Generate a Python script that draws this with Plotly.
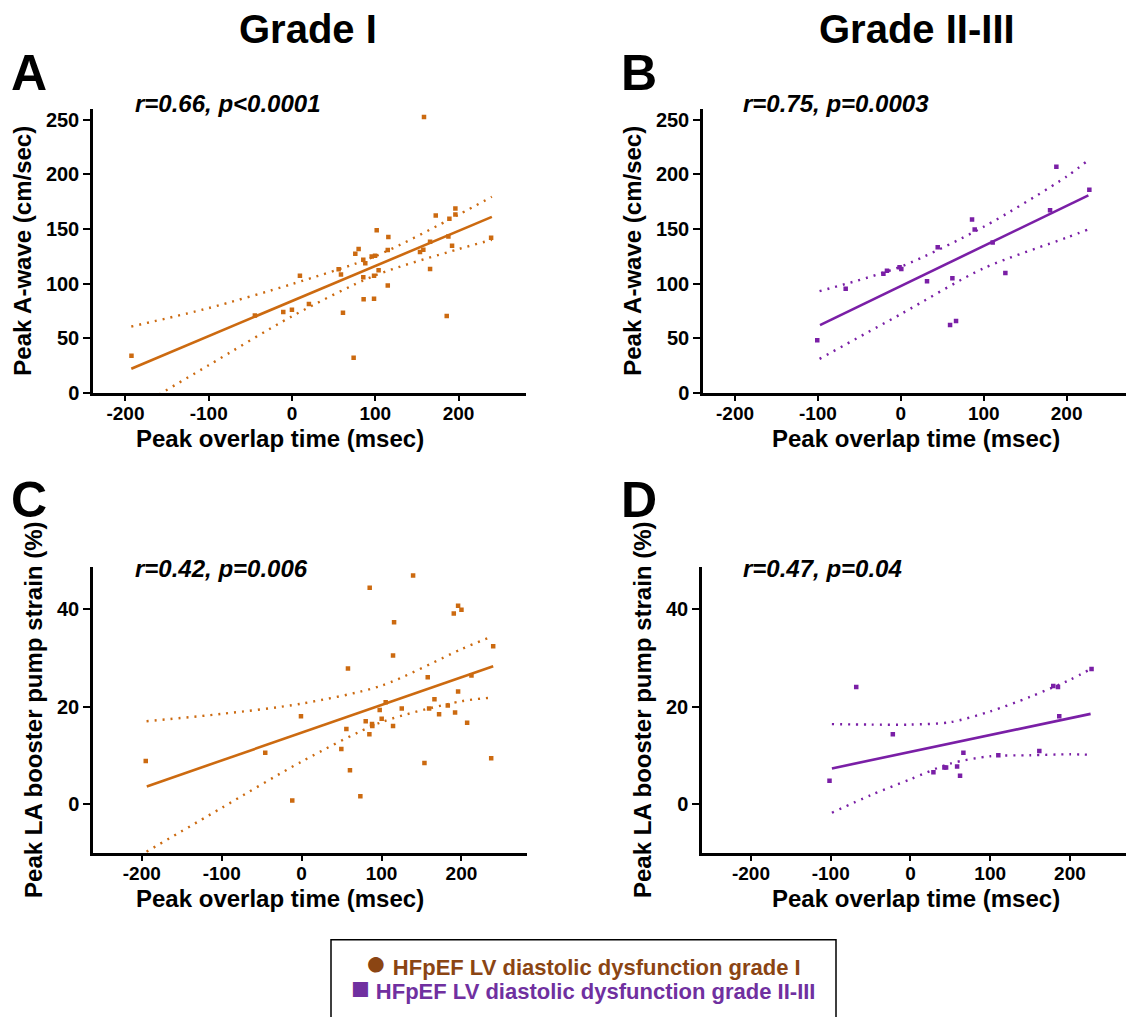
import plotly.graph_objects as go

W, H = 1126, 1017
FONT = "Liberation Sans, Arial, sans-serif"
ORANGE = "#CC6A10"
PURPLE = "#7A1FA6"
BROWN = "#8B4513"
LEG_PURPLE = "#7030A0"

# ---------------- data ----------------
# Panel A: Grade I, Peak A-wave vs peak overlap time
a_x = [158.5, -192.8, -44.6, -10.5, -0.1, 9.5, 20.3, 56, 58.8, 61.2, 76, 80, 74, 85.6, 88,
       85.6, 86, 98.5, 98.5, 99.7, 95.7, 101.7, 104, 115.7, 115, 115, 153.7, 157.7, 165.8,
       165.8, 172.6, 185.8, 187.8, 189, 192.2, 196.2, 196.2, 239.1]
a_y = [252.4, 33.9, 70.6, 73.9, 76, 107, 81.2, 113, 108.2, 73.3, 127.3, 131.5, 32.1, 121.8,
       118.5, 105.8, 85.5, 86, 107, 125.5, 124.8, 148.8, 112.1, 142.7, 130.6, 98.2, 128.8,
       130.9, 138.2, 113.3, 162.4, 70.3, 143, 159.4, 134.5, 168.8, 163.3, 141.8]
a_fit_x = [-193, 240]
a_fit_y = [22, 161]
a_band_x = [-193, -100, 0, 100, 200, 240]
a_upper = [60.6, 77.5, 99.5, 125, 163, 179.5]
a_lower = [-16.6, 25.2, 70, 107.5, 131.5, 140]

# Panel B: Grade II-III, Peak A-wave vs peak overlap time
b_x = [-100.8, -66.5, -21, -16.7, 0.6, -1.5, 31.6, 44.5, 62.2, 59.4, 66.6, 85.9, 89.1,
       110.8, 126.1, 180, 187.6, 227.4]
b_y = [48, 95.2, 109, 111.8, 113.3, 115, 102.1, 133.2, 104.8, 61.9, 65.6, 158.6, 149.5,
       137.5, 109.7, 167, 207, 185.8]
b_fit_x = [-97.5, 226.2]
b_fit_y = [61.9, 180.7]
b_band_x = [-98, 0, 100, 200, 226]
b_upper = [93, 115.5, 152, 198, 213]
b_lower = [31, 72, 114, 142, 149.5]

# Panel C: Grade I, LA booster pump strain vs peak overlap time
c_x = [139.5, 85.2, 195.8, 200, 190.4, 115.7, 114.4, 239.7, 58, 157.8, 212.5, 195.8, 166.2,
       105.2, -0.8, 125.3, 97.7, 159.5, 182.9, 172, 192, 100.2, 80.2, 88.1, 88.5, 114.4, 56,
       84.8, 207.1, 49.7, -45.5, -195, 153.7, 237.2, 60.5, -11.7, 73.5]
c_y = [46.9, 44.4, 40.7, 39.9, 39.1, 37.3, 30.5, 32.4, 27.8, 26, 26.4, 23.1, 21.5, 20.9, 18,
       19.6, 19.3, 19.6, 20.2, 18.4, 18.8, 17.5, 17, 16.4, 16, 16, 15.4, 14.3, 16.7, 11.3,
       10.5, 8.8, 8.4, 9.4, 6.9, 0.7, 1.6]
c_fit_x = [-193.7, 239.7]
c_fit_y = [3.6, 28.3]
c_band_x = [-194, -100, 0, 100, 200, 235]
c_upper = [17, 18.5, 20.6, 24.3, 31.8, 34.2]
c_lower = [-9.8, -0.8, 8.7, 16.8, 21.1, 21.8]

# Panel D: Grade II-III, LA booster pump strain vs peak overlap time
d_x = [-68, -101.5, -22.1, 28.8, 42.6, 44.7, 58.5, 62.2, 66.4, 110.2, 161.6, 186.6, 179.1,
       185, 227.1]
d_y = [24, 4.75, 14.3, 6.5, 7.5, 7.5, 7.7, 5.8, 10.5, 10, 10.9, 18, 24.2, 24, 27.7]
d_fit_x = [-98.5, 225.9]
d_fit_y = [7.3, 18.5]
d_band_x = [-98.5, -50, 0, 50, 100, 150, 200, 226]
d_upper = [16.4, 16.3, 16.3, 16.8, 19.0, 22.0, 25.5, 27.7]
d_lower = [-1.8, 1.8, 5.1, 8.3, 9.8, 10.0, 10.2, 10.1]

x_ticks = [-200, -100, 0, 100, 200]
x_tick_labels = ["-200", "-100", "0", "100", "200"]
aw_ticks = [0, 50, 100, 150, 200, 250]
la_ticks = [0, 20, 40]

x_title = "Peak overlap time (msec)"
aw_title = "Peak A-wave (cm/sec)"
la_title = "Peak LA booster pump strain (%)"
stats = ["r=0.66, p<0.0001", "r=0.75, p=0.0003", "r=0.42, p=0.006", "r=0.47, p=0.04"]
letters = ["A", "B", "C", "D"]
col_titles = ["Grade I", "Grade II-III"]
legend_labels = ["HFpEF LV diastolic dysfunction grade I",
                 "HFpEF LV diastolic dysfunction grade II-III"]


def px(x):
    return x / W


def py(y):
    return 1 - y / H


fig = go.Figure()

panels = [
    dict(xs=a_x, ys=a_y, fx=a_fit_x, fy=a_fit_y, bx=a_band_x, up=a_upper, lo=a_lower,
         color=ORANGE, ax="x", ay="y"),
    dict(xs=b_x, ys=b_y, fx=b_fit_x, fy=b_fit_y, bx=b_band_x, up=b_upper, lo=b_lower,
         color=PURPLE, ax="x2", ay="y2"),
    dict(xs=c_x, ys=c_y, fx=c_fit_x, fy=c_fit_y, bx=c_band_x, up=c_upper, lo=c_lower,
         color=ORANGE, ax="x3", ay="y3"),
    dict(xs=d_x, ys=d_y, fx=d_fit_x, fy=d_fit_y, bx=d_band_x, up=d_upper, lo=d_lower,
         color=PURPLE, ax="x4", ay="y4"),
]

for p in panels:
    for band in (p["up"], p["lo"]):
        fig.add_trace(go.Scatter(x=p["bx"], y=band, mode="lines", xaxis=p["ax"], yaxis=p["ay"],
                                 line=dict(color=p["color"], width=2.4, dash="2px,6px",
                                           shape="spline", smoothing=0.8),
                                 showlegend=False, hoverinfo="skip"))
    fig.add_trace(go.Scatter(x=p["fx"], y=p["fy"], mode="lines", xaxis=p["ax"], yaxis=p["ay"],
                             line=dict(color=p["color"], width=2.6), showlegend=False))
    fig.add_trace(go.Scatter(x=p["xs"], y=p["ys"], mode="markers", xaxis=p["ax"], yaxis=p["ay"],
                             marker=dict(symbol="square", size=4.5, color=p["color"]),
                             showlegend=False))

tickfont = dict(family=FONT, size=19, color="black", weight="bold")
titlefont = dict(family=FONT, size=24, color="black", weight="bold")

common_x = dict(showline=True, linewidth=2.5, linecolor="black", ticks="outside", ticklen=6,
                tickwidth=2.2, tickcolor="black", tickvals=x_ticks, ticktext=x_tick_labels,
                showgrid=False, zeroline=False, tickfont=tickfont, ticklabelstandoff=-4)
common_y = dict(showline=True, linewidth=2.5, linecolor="black", ticks="outside", ticklen=7,
                tickwidth=2.2, tickcolor="black", showgrid=False, zeroline=False,
                tickfont=dict(tickfont, size=20))

fig.update_layout(
    width=W, height=H, margin=dict(l=0, r=0, t=0, b=0),
    paper_bgcolor="white", plot_bgcolor="white", showlegend=False,
    xaxis=dict(common_x, domain=[px(93), px(526)], range=[-239, 281], anchor="y"),
    yaxis=dict(common_y, domain=[py(397), py(110)], range=[0, 260], tickvals=aw_ticks,
               anchor="x", title=dict(text=aw_title, font=titlefont, standoff=8)),
    xaxis2=dict(common_x, domain=[px(703), 1.0], range=[-238.6, 271.6], anchor="y2"),
    yaxis2=dict(common_y, domain=[py(397), py(110)], range=[0, 260], tickvals=aw_ticks,
                anchor="x2", title=dict(text=aw_title, font=titlefont, standoff=8)),
    xaxis3=dict(common_x, domain=[px(93), px(527)], range=[-261, 282], anchor="y3"),
    yaxis3=dict(common_y, domain=[py(862), py(573)], range=[-10, 48.7], tickvals=la_ticks,
                anchor="x3", title=dict(text=la_title, font=titlefont, standoff=8)),
    xaxis4=dict(common_x, domain=[px(702), 1.0], range=[-261.4, 270.3], anchor="y4"),
    yaxis4=dict(common_y, domain=[py(862), py(573)], range=[-10, 48.7], tickvals=la_ticks,
                anchor="x4", title=dict(text=la_title, font=titlefont, standoff=8)),
)

ann = []
# x-axis titles
for cx, cy in [(280, 443), (916, 443), (280, 908), (916, 908)]:
    ann.append(dict(text=x_title, x=px(cx), y=py(cy), xref="paper", yref="paper",
                    xanchor="center", yanchor="middle", showarrow=False, font=titlefont,
                    borderpad=0))
# column titles
for t, cx in zip(col_titles, [308, 917]):
    ann.append(dict(text=t, x=px(cx), y=py(29), xref="paper", yref="paper",
                    xanchor="center", yanchor="middle", showarrow=False,
                    font=dict(family=FONT, size=40, color="black", weight="bold")))
# panel letters
for L, (lx, ly) in zip(letters, [(29, 74), (639, 74), (29, 505), (639, 505)]):
    ann.append(dict(text=L, x=px(lx), y=py(ly), xref="paper", yref="paper",
                    xanchor="center", yanchor="middle", showarrow=False,
                    font=dict(family=FONT, size=50, color="black", weight="bold")))
# correlation texts
for s, (sx, sy) in zip(stats, [(133, 105), (741, 105), (133, 575), (741, 575)]):
    ann.append(dict(text=s, x=px(sx), y=py(sy), xref="paper", yref="paper",
                    xanchor="left", yanchor="middle", showarrow=False,
                    font=dict(family=FONT, size=24, color="black", weight="bold",
                              style="italic")))
# legend box
ann.append(dict(text="<span style='font-size:36px'>\u25CF</span> " + legend_labels[0],
                x=px(583), y=py(973), xref="paper",
                yref="paper", xanchor="center", yanchor="middle", showarrow=False,
                font=dict(family=FONT, size=22, color=BROWN, weight="bold")))
ann.append(dict(text="<span style='font-size:31px'>\u25A0</span> " + legend_labels[1],
                x=px(583), y=py(999), xref="paper",
                yref="paper", xanchor="center", yanchor="middle", showarrow=False,
                font=dict(family=FONT, size=22, color=LEG_PURPLE, weight="bold")))
fig.update_layout(annotations=ann)
fig.add_shape(type="rect", xref="paper", yref="paper", x0=px(331), x1=px(836),
              y0=py(1030), y1=py(950), line=dict(color="black", width=1.5))

fig.write_html("out.html")
